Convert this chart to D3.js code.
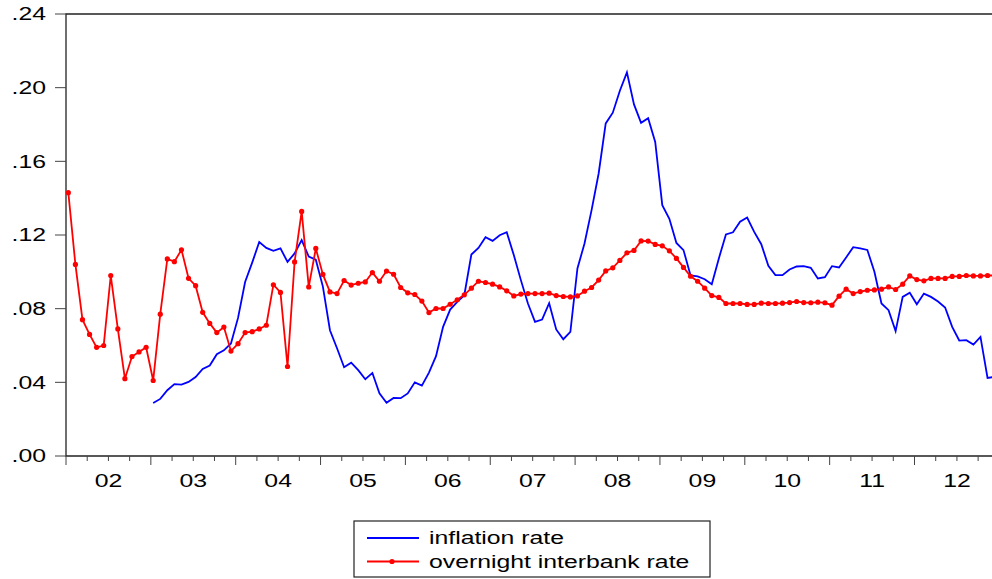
<!DOCTYPE html>
<html>
<head>
<meta charset="utf-8">
<script src="https://cdn.jsdelivr.net/npm/d3@7"></script>
<style>
  body { margin: 0; background: #fff; }
  text { font-family: "Liberation Sans", Arial, sans-serif; fill: #000; }
</style>
</head>
<body>
<div class="canvas"></div>
<script>
// data (monthly, Jan 2002 = index 0)
const yearLabels = ['02','03','04','05','06','07','08','09','10','11','12'];
const yTicks = [0, 0.04, 0.08, 0.12, 0.16, 0.20, 0.24];

const interbank = [
  0.143, 0.104, 0.074, 0.066, 0.059, 0.060, 0.098, 0.069, 0.042, 0.054, 0.0565, 0.059,
  0.041, 0.077, 0.107, 0.1055, 0.112, 0.0965, 0.0925, 0.078, 0.072, 0.067, 0.070, 0.057,
  0.061, 0.067, 0.0675, 0.069, 0.071, 0.093, 0.0888, 0.0486, 0.1054, 0.1328, 0.0918, 0.1127,
  0.0986, 0.0891, 0.0882, 0.0953, 0.0928, 0.0938, 0.0945, 0.0996, 0.0949, 0.1004, 0.0987, 0.0915,
  0.0886, 0.0877, 0.0841, 0.0779, 0.0801, 0.0801, 0.0824, 0.0848, 0.0875, 0.0911, 0.0949, 0.0942,
  0.0933, 0.0918, 0.0897, 0.0869, 0.0879, 0.0882, 0.0882, 0.0882, 0.0884, 0.0871, 0.0866, 0.0864,
  0.0869, 0.0895, 0.0915, 0.0955, 0.1005, 0.1022, 0.1062, 0.1103, 0.1116, 0.1168, 0.1167, 0.1149,
  0.1141, 0.1114, 0.1073, 0.1024, 0.0976, 0.0949, 0.0911, 0.0871, 0.0861, 0.0828, 0.0828, 0.0828,
  0.0823, 0.0823, 0.0830, 0.0828, 0.0828, 0.0830, 0.0833, 0.0839, 0.0833, 0.0832, 0.0835, 0.0832,
  0.0819, 0.0868, 0.0906, 0.0882, 0.0893, 0.0900, 0.0902, 0.0906, 0.0918, 0.0904, 0.0933, 0.0978,
  0.0958, 0.0951, 0.0964, 0.0964, 0.0964, 0.0975, 0.0975, 0.0980, 0.0978, 0.0978, 0.0980, 0.0980
];

// inflation starts Jan 2003
const inflationStart = 12;
const inflation = [
  0.0288, 0.0310, 0.0357, 0.0390, 0.0388, 0.0402, 0.0429, 0.0473, 0.0491, 0.0553, 0.0574, 0.0611,
  0.0750, 0.0945, 0.1050, 0.1162, 0.1130, 0.1114, 0.1127, 0.1054, 0.1100, 0.1172, 0.1083, 0.1066,
  0.0920, 0.0683, 0.0585, 0.0482, 0.0507, 0.0466, 0.0417, 0.0451, 0.0340, 0.0289, 0.0315, 0.0314,
  0.0340, 0.0400, 0.0382, 0.0453, 0.0542, 0.0701, 0.0795, 0.0837, 0.0873, 0.1094, 0.1130, 0.1188,
  0.1168, 0.1199, 0.1215, 0.1091, 0.0955, 0.0828, 0.0728, 0.0741, 0.0830, 0.0687, 0.0634, 0.0674,
  0.1018, 0.1154, 0.1335, 0.1534, 0.1806, 0.1864, 0.1983, 0.2083, 0.1909, 0.1809, 0.1834, 0.1705,
  0.1362, 0.1288, 0.1157, 0.1118, 0.0980, 0.0975, 0.0960, 0.0933, 0.1073, 0.1203, 0.1215, 0.1272,
  0.1295, 0.1217, 0.1150, 0.1033, 0.0982, 0.0982, 0.1013, 0.1029, 0.1031, 0.1022, 0.0964, 0.0971,
  0.1031, 0.1024, 0.1078, 0.1134, 0.1127, 0.1119, 0.1000, 0.0828, 0.0792, 0.0678, 0.0864, 0.0886,
  0.0824, 0.0882, 0.0864, 0.0839, 0.0806, 0.0701, 0.0627, 0.0629, 0.0605, 0.0647, 0.0424, 0.0430
];

const width = 992, height = 579;
const margin = {top: 14, left: 66, bottom: 456};
const yearWidth = 84.85;
const fontSize = 18.5;
const stretch = 1.34; // the original text is wider than plain Arial

const svg = d3.select('.canvas')
    .append('svg')
    .attr('width', width)
    .attr('height', height);

// text helper: horizontally stretched label
const label = (g, tx, ty, str, anchor) => g.append('text')
    .attr('transform', `translate(${tx},${ty}) scale(${stretch},1)`)
    .attr('text-anchor', anchor)
    .attr('dy', '0.35em')
    .attr('font-size', fontSize)
    .text(str);

const x = d3.scaleLinear().domain([0, 132]).range([margin.left, margin.left + 11 * yearWidth]);
const y = d3.scaleLinear().domain([0, 0.24]).range([margin.bottom, margin.top]);
const offset = 0.33; // points sit a little after the month start

// frame
svg.append('path')
    .attr('d', `M${width},${margin.top}H${margin.left}V${margin.bottom}H${width}`)
    .attr('fill', 'none')
    .attr('stroke', '#222')
    .attr('stroke-width', 1.3);

// y axis
const yg = svg.append('g');
yg.selectAll('line').data(yTicks).join('line')
    .attr('x1', margin.left - 11).attr('x2', margin.left)
    .attr('y1', d => y(d)).attr('y2', d => y(d))
    .attr('stroke', '#444');
yTicks.forEach(t => label(yg, 46, y(t), d3.format('.2f')(t).replace(/^0/, ''), 'end'));

// x axis: major ticks at years, minor at quarters
const xg = svg.append('g').attr('transform', `translate(0,${margin.bottom})`);
xg.selectAll('line').data(d3.range(0, 133, 3)).join('line')
    .attr('x1', d => x(d)).attr('x2', d => x(d))
    .attr('y1', 0).attr('y2', d => d % 12 === 0 ? 9 : 5)
    .attr('stroke', '#444');
yearLabels.forEach((d, i) => label(xg, x(i * 12 + 6), 25, d, 'middle'));

// series
const plot = svg.append('g');

const redPts = interbank.map((v, i) => ({i: i, v: v}));
const bluePts = inflation.map((v, i) => ({i: i + inflationStart, v: v}));

const line = d3.line().x(d => x(d.i + offset)).y(d => y(d.v));

plot.append('path')
    .datum(bluePts)
    .attr('d', line)
    .attr('fill', 'none')
    .attr('stroke', '#0000ff')
    .attr('stroke-width', 1.8);

plot.append('path')
    .datum(redPts)
    .attr('d', line)
    .attr('fill', 'none')
    .attr('stroke', '#ff0000')
    .attr('stroke-width', 1.8);

plot.selectAll('circle').data(redPts).join('circle')
    .attr('cx', d => x(d.i + offset))
    .attr('cy', d => y(d.v))
    .attr('r', 2.6)
    .attr('fill', '#ff0000');

// legend
const legend = svg.append('g').attr('transform', 'translate(354,521)');
legend.append('rect')
    .attr('width', 356).attr('height', 56)
    .attr('fill', '#fff').attr('stroke', '#222').attr('stroke-width', 1.2);

const legendItems = [
  {label: 'inflation rate', color: '#0000ff', dot: false},
  {label: 'overnight interbank rate', color: '#ff0000', dot: true}
];
legendItems.forEach((d, i) => {
  const row = legend.append('g').attr('transform', `translate(0,${17 + i * 23.5})`);
  row.append('line')
      .attr('x1', 13).attr('x2', 65)
      .attr('stroke', d.color).attr('stroke-width', 1.8);
  if (d.dot) row.append('circle').attr('cx', 38).attr('r', 2.6).attr('fill', d.color);
  label(row, 75, 0, d.label, 'start');
});
</script>
</body>
</html>
